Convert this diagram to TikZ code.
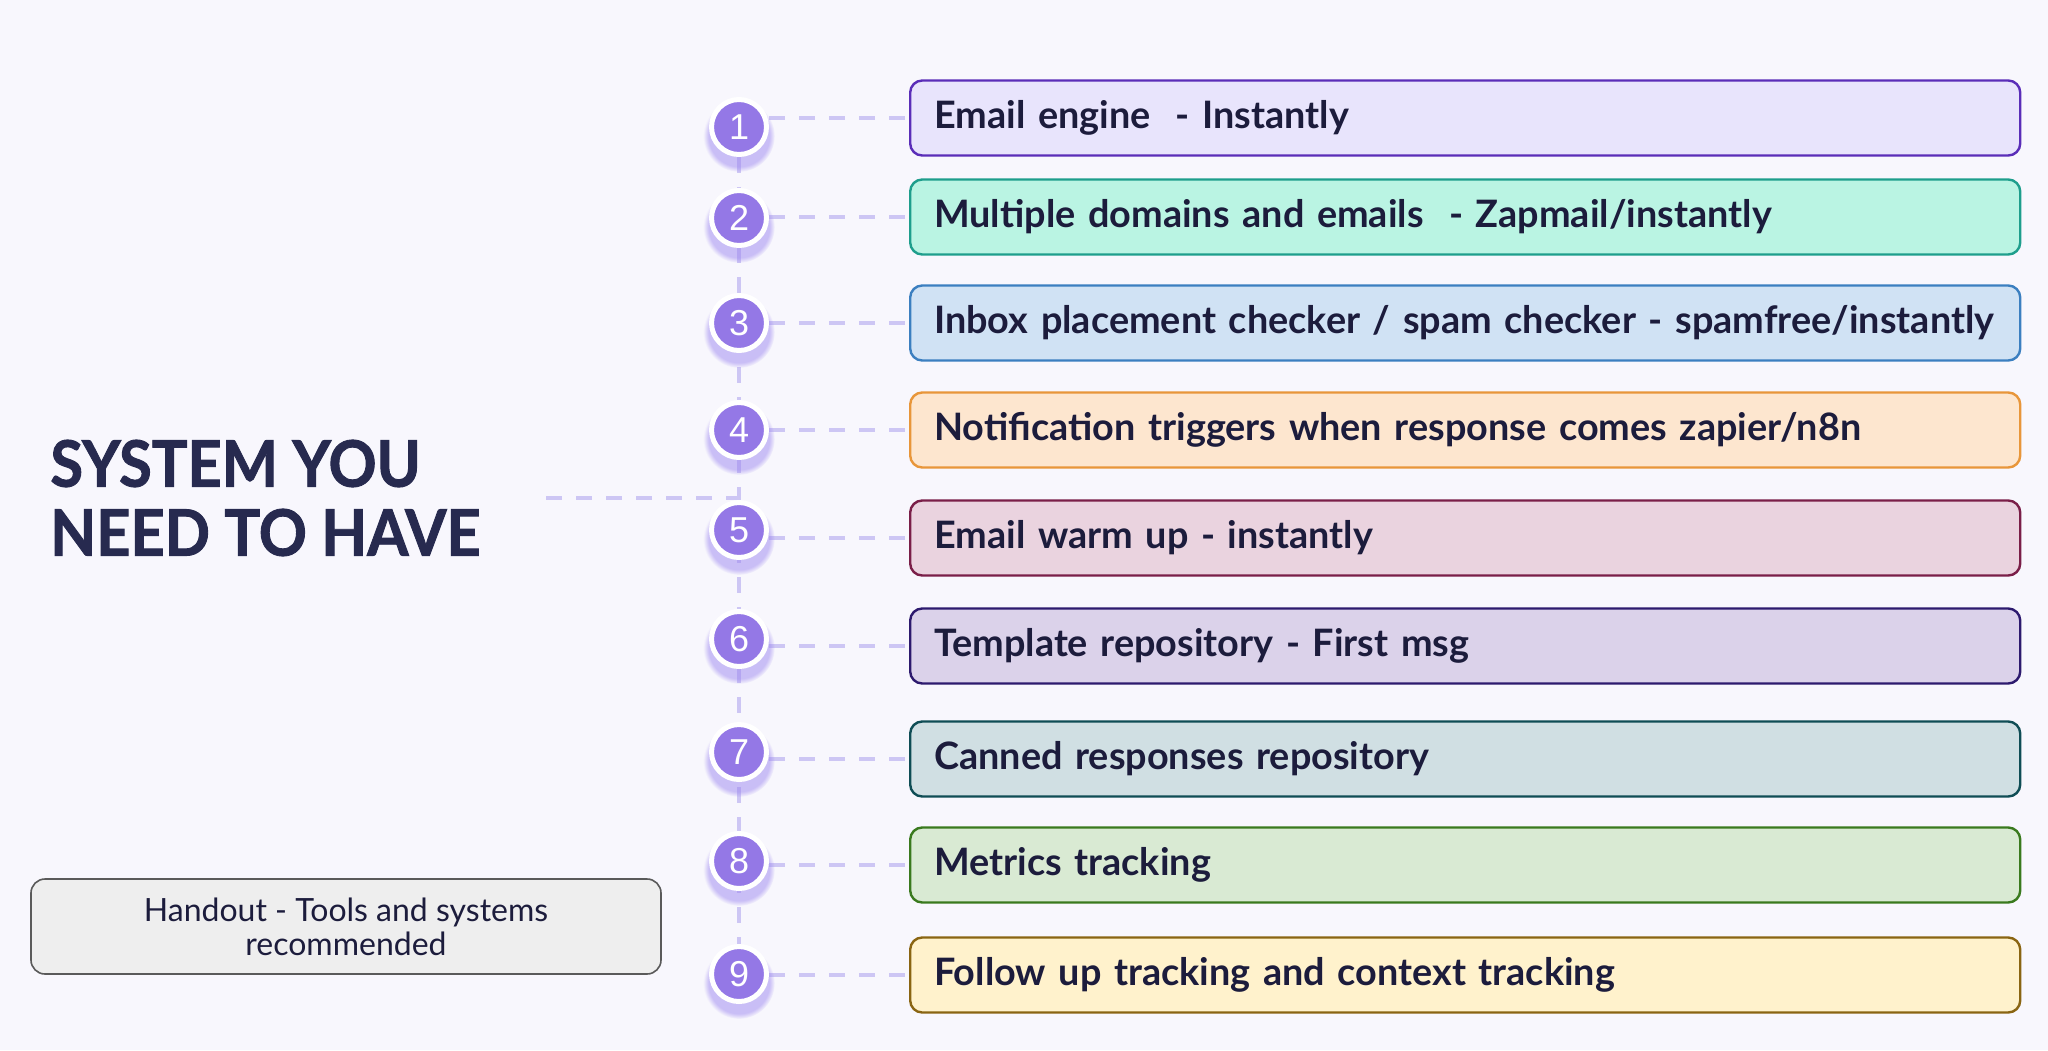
\documentclass[tikz,border=0pt]{standalone}
\usepackage{fontspec}
\setmainfont{Lato}
\newfontfamily\digitfont{Liberation Sans}
\newfontfamily\headfont{Lato}[FakeStretch=0.93, BoldFeatures={FakeBold=1.4}]
\usepackage{tikz}
\usetikzlibrary{shadows}
\definecolor{pagebg}{HTML}{F8F7FD}
\definecolor{inktext}{HTML}{1C1C3C}
\definecolor{headtext}{HTML}{272A4F}
\definecolor{linkcol}{HTML}{CDC6F4}
\definecolor{badgefill}{HTML}{9478E6}
\definecolor{badgeglow}{HTML}{9C86F0}
\definecolor{fillA}{HTML}{E8E4FC}\definecolor{edgeA}{HTML}{5A2DB8}
\definecolor{fillB}{HTML}{BAF4E3}\definecolor{edgeB}{HTML}{1E9E8C}
\definecolor{fillC}{HTML}{D0E2F4}\definecolor{edgeC}{HTML}{3B7FC0}
\definecolor{fillD}{HTML}{FDE6CF}\definecolor{edgeD}{HTML}{E8963A}
\definecolor{fillE}{HTML}{EAD3DF}\definecolor{edgeE}{HTML}{7A1E48}
\definecolor{fillF}{HTML}{DBD2EA}\definecolor{edgeF}{HTML}{2D1A6E}
\definecolor{fillG}{HTML}{D0DFE3}\definecolor{edgeG}{HTML}{0F4D55}
\definecolor{fillH}{HTML}{D9EAD3}\definecolor{edgeH}{HTML}{3A7A1E}
\definecolor{fillI}{HTML}{FFF2CC}\definecolor{edgeI}{HTML}{8A6512}
\definecolor{notefill}{HTML}{EEEEEE}
\definecolor{noteedge}{HTML}{5A5A5A}
\pgfdeclarelayer{bg}
\pgfsetlayers{bg,main}

\begin{document}
\begin{tikzpicture}[
    x=0.5pt, y=-0.5pt,
    item/.style={rectangle, draw, line width=1.2pt, rounded corners=6pt, anchor=west, minimum height=37.5pt, text width=531pt, inner xsep=12pt, align=left, font=\fontsize{18.9}{22}\selectfont\bfseries, text=inktext},
    badge/.style={circle, fill=badgefill, draw=white, line width=2.5pt, minimum size=27.5pt, inner sep=0pt, text=white, font=\digitfont\fontsize{18}{20}\selectfont, circular drop shadow={fill=badgeglow, opacity=0.5, shadow xshift=0pt, shadow yshift=-3.5pt, shadow scale=1.3}},
    link/.style={draw=linkcol, line width=2.2pt, dash pattern=on 8pt off 7pt},
    headline/.style={anchor=west, inner sep=0pt, align=left, text=headtext, font=\headfont\fontsize{32}{34.5}\selectfont\bfseries},
    note/.style={rectangle, draw=noteedge, fill=notefill, line width=0.8pt, rounded corners=7pt, minimum width=315pt, minimum height=47.5pt, align=center, text=inktext, font=\fontsize{16}{17}\selectfont}
]

    \begin{pgfonlayer}{bg}
        \fill[pagebg] (0,0) rectangle (2048,1050);
    \end{pgfonlayer}
    \useasboundingbox (0,0) rectangle (2048,1050);

    % title and handout
    \node[headline] (title) at (50,498) {SYSTEM YOU\\NEED TO HAVE};
    \node[note] (handout) at (346,926.5) {Handout - Tools and systems\\recommended};

    % the nine tools
    \node[item, fill=fillA, draw=edgeA] (b1) at (909,118) {Email engine\ \ - Instantly};
    \node[item, fill=fillB, draw=edgeB] (b2) at (909,217) {Multiple domains and emails\ \ - Zapmail/instantly};
    \node[item, fill=fillC, draw=edgeC] (b3) at (909,323) {Inbox placement checker / spam checker - spamfree/instantly};
    \node[item, fill=fillD, draw=edgeD] (b4) at (909,430) {Notification triggers when response comes zapier/n8n};
    \node[item, fill=fillE, draw=edgeE] (b5) at (909,538) {Email warm up - instantly};
    \node[item, fill=fillF, draw=edgeF] (b6) at (909,646) {Template repository - First msg};
    \node[item, fill=fillG, draw=edgeG] (b7) at (909,759) {Canned responses repository};
    \node[item, fill=fillH, draw=edgeH] (b8) at (909,865) {Metrics tracking};
    \node[item, fill=fillI, draw=edgeI] (b9) at (909,975) {Follow up tracking and context tracking};

    % numbered badges
    \node[badge] (c1) at (739,127) {1};
    \node[badge] (c2) at (739,218) {2};
    \node[badge] (c3) at (739,323) {3};
    \node[badge] (c4) at (739,430) {4};
    \node[badge] (c5) at (739,530) {5};
    \node[badge] (c6) at (739,639) {6};
    \node[badge] (c7) at (739,752) {7};
    \node[badge] (c8) at (739,861) {8};
    \node[badge] (c9) at (739,974) {9};

    \coordinate (tail) at (546,498);

    \begin{pgfonlayer}{bg}
        \draw[link] (c1) -- (c9);
        \draw[link] (tail) -- (tail -| c1);
        \draw[link] (c1.east |- b1.west) -- (b1.west);
        \draw[link] (c2.east |- b2.west) -- (b2.west);
        \draw[link] (c3.east |- b3.west) -- (b3.west);
        \draw[link] (c4.east |- b4.west) -- (b4.west);
        \draw[link] (c5.east |- b5.west) -- (b5.west);
        \draw[link] (c6.east |- b6.west) -- (b6.west);
        \draw[link] (c7.east |- b7.west) -- (b7.west);
        \draw[link] (c8.east |- b8.west) -- (b8.west);
        \draw[link] (c9.east |- b9.west) -- (b9.west);
    \end{pgfonlayer}

\end{tikzpicture}
\end{document}
